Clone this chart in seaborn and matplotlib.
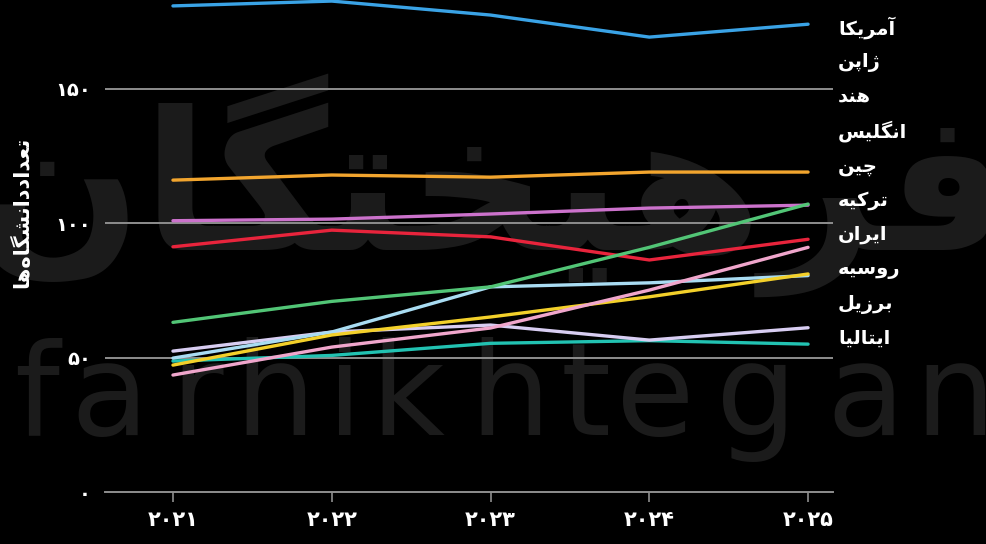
import matplotlib
matplotlib.use("Agg")
import matplotlib.pyplot as plt
import seaborn as sns
import pandas as pd

# ---------------- data ----------------
years = [2021, 2022, 2023, 2024, 2025]
year_labels = ["۲۰۲۱", "۲۰۲۲", "۲۰۲۳", "۲۰۲۴", "۲۰۲۵"]
y_ticks = [0, 50, 100, 150]
y_tick_labels = ["۰", "۵۰", "۱۰۰", "۱۵۰"]
countries = ["آمریکا", "ژاپن", "هند", "انگلیس", "چین", "ترکیه", "ایران", "روسیه", "برزیل", "ایتالیا"]
usa = [180.8, 182.6, 177.4, 169.2, 174.0]
japan = [116.0, 117.9, 117.1, 119.0, 119.0]
india = [63.1, 70.9, 76.3, 91.0, 107.1]
uk = [100.9, 101.5, 103.4, 105.6, 106.7]
china = [91.2, 97.4, 94.9, 86.3, 94.0]
turkey = [43.5, 53.9, 61.0, 75.1, 91.0]
iran = [47.2, 58.4, 65.1, 72.6, 81.1]
russia = [49.8, 59.5, 76.3, 77.8, 80.5]
brazil = [52.4, 59.5, 62.1, 56.5, 61.1]
italy = [48.7, 50.8, 55.3, 56.3, 55.0]
colors = ["#3aa3e6", "#f2a52e", "#52c576", "#cc72cc", "#e8243c",
          "#f0a6cc", "#f3d02a", "#a9dcf2", "#d8cdf2", "#22c2b2"]
y_label = "تعداددانشگاه‌ها"
wm_fa = "فرهیختگان"
wm_en = "farhikhtegan"

# ------------- minimal Persian shaping -------------
FORMS = {
    'آ': ('\uFE81', '\uFE82'), 'ا': ('\uFE8D', '\uFE8E'),
    'ب': ('\uFE8F', '\uFE90', '\uFE91', '\uFE92'), 'پ': ('\uFB56', '\uFB57', '\uFB58', '\uFB59'),
    'ت': ('\uFE95', '\uFE96', '\uFE97', '\uFE98'), 'چ': ('\uFB7A', '\uFB7B', '\uFB7C', '\uFB7D'),
    'خ': ('\uFEA5', '\uFEA6', '\uFEA7', '\uFEA8'), 'د': ('\uFEA9', '\uFEAA'),
    'ر': ('\uFEAD', '\uFEAE'), 'ز': ('\uFEAF', '\uFEB0'), 'ژ': ('\uFB8A', '\uFB8B'),
    'س': ('\uFEB1', '\uFEB2', '\uFEB3', '\uFEB4'), 'ش': ('\uFEB5', '\uFEB6', '\uFEB7', '\uFEB8'),
    'ع': ('\uFEC9', '\uFECA', '\uFECB', '\uFECC'), 'ف': ('\uFED1', '\uFED2', '\uFED3', '\uFED4'),
    'ک': ('\uFB8E', '\uFB8F', '\uFB90', '\uFB91'), 'گ': ('\uFB92', '\uFB93', '\uFB94', '\uFB95'),
    'ل': ('\uFEDD', '\uFEDE', '\uFEDF', '\uFEE0'), 'م': ('\uFEE1', '\uFEE2', '\uFEE3', '\uFEE4'),
    'ن': ('\uFEE5', '\uFEE6', '\uFEE7', '\uFEE8'), 'ه': ('\uFEE9', '\uFEEA', '\uFEEB', '\uFEEC'),
    'و': ('\uFEED', '\uFEEE'), 'ی': ('\uFBFC', '\uFBFD', '\uFBFE', '\uFBFF'),
}


def fa(s):
    out = []
    for i, c in enumerate(s):
        if c not in FORMS:
            if c != '\u200c':
                out.append(c)
            continue
        f = FORMS[c]
        prev = s[i - 1] if i > 0 else None
        nxt = s[i + 1] if i + 1 < len(s) else None
        jp = prev in FORMS and len(FORMS[prev]) == 4
        jn = len(f) == 4 and nxt in FORMS
        if jp and jn:
            out.append(f[3])
        elif jp:
            out.append(f[1])
        elif jn:
            out.append(f[2])
        else:
            out.append(f[0])
    return ''.join(reversed(out))


# ---------------- figure ----------------
sns.set_theme(style="dark")
plt.rcParams['font.family'] = ['DejaVu Sans']
plt.rcParams['axes.unicode_minus'] = False

series = [usa, japan, india, uk, china, turkey, iran, russia, brazil, italy]
rows = []
for c, vals in zip(countries, series):
    for yr, v in zip(years, vals):
        rows.append({"year": yr, "country": c, "value": v})
df = pd.DataFrame(rows)
palette = dict(zip(countries, colors))

fig = plt.figure(figsize=(9.86, 5.44), dpi=100, facecolor="black")

# watermark (behind the axes)
wm_col = "#1b1b1b"
fig.text(0.50, 0.66, fa(wm_fa), fontsize=140, fontweight="bold", color=wm_col,
         ha="center", va="center", zorder=0)
en_x = [37, 110, 197, 275, 345, 407, 510, 586, 655, 757, 865, 955]
for ch, xp in zip(wm_en, en_x):
    fig.text(xp / 986, (544 - 435) / 544, ch, fontsize=92, color=wm_col,
             ha="center", va="baseline", zorder=0)

ax = fig.add_axes([105 / 986, 52 / 544, 728 / 986, 492 / 544])
ax.set_zorder(2)
ax.patch.set_alpha(0)

for yv in y_ticks[1:]:
    ax.axhline(yv, color="#8e8e8e", lw=1.4, zorder=1)

sns.lineplot(data=df, x="year", y="value", hue="country", palette=palette,
             hue_order=countries[::-1], linewidth=2.4, legend=False, ax=ax, zorder=3)

ax.set_xlim(2020.572, 2025.157)
ax.set_ylim(0, 183.0)
ax.set_xticks(years)
ax.set_xticklabels(year_labels)
ax.set_yticks(y_ticks)
ax.set_yticklabels(y_tick_labels)
ax.grid(False)
for side in ["top", "right", "left"]:
    ax.spines[side].set_visible(False)
ax.spines["bottom"].set_color("#8e8e8e")
ax.spines["bottom"].set_linewidth(1.4)
ax.tick_params(axis="x", colors="#8e8e8e", length=7, width=1.2, pad=6, direction="out",
               bottom=True, labelcolor="white", labelsize=15)
ax.tick_params(axis="y", length=0, pad=10, labelcolor="white", labelsize=14)
for lab in ax.get_xticklabels() + ax.get_yticklabels():
    lab.set_fontweight("bold")
ax.set_xlabel("")
ax.set_ylabel("")

fig.text(22 / 986, 1 - 212 / 544, fa(y_label), rotation=90, color="white",
         fontsize=15, fontweight="bold", ha="center", va="center", zorder=5)

for i, c in enumerate(countries):
    yc = 28 + 34.5 * i
    fig.text(838 / 986, 1 - yc / 544, fa(c), color="white", fontsize=14,
             fontweight="bold", ha="left", va="center", zorder=5)

fig.savefig("out.png", dpi=100, facecolor="black")
